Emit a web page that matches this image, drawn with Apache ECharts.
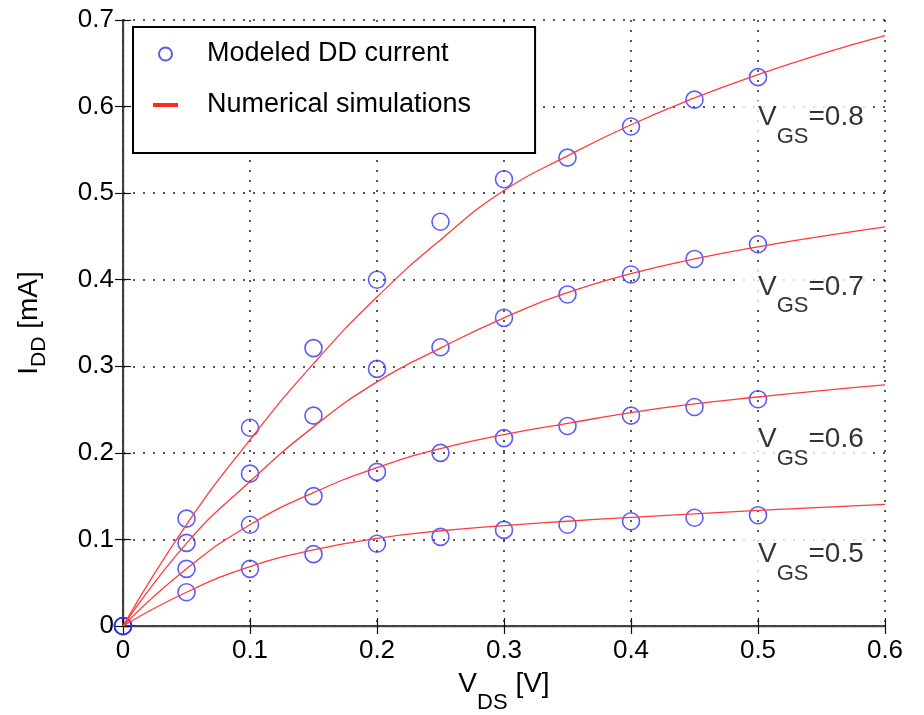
<!DOCTYPE html>
<html><head><meta charset="utf-8">
<script src="https://cdn.jsdelivr.net/npm/echarts@6/dist/echarts.min.js"></script>
<style>html,body{margin:0;padding:0;background:#fff}#c{width:924px;height:715px}</style>
</head><body><div id="c"></div>
<script>
// ---- data ----
const vdsModel = [0, 0.05, 0.1, 0.15, 0.2, 0.25, 0.3, 0.35, 0.4, 0.45, 0.5];
const vdsSim   = [0, 0.05, 0.1, 0.15, 0.2, 0.25, 0.3, 0.35, 0.4, 0.45, 0.5, 0.55, 0.6];

const model08 = [0, 0.124, 0.229, 0.321, 0.400, 0.467, 0.516, 0.541, 0.577, 0.608, 0.634];
const model07 = [0, 0.096, 0.176, 0.243, 0.297, 0.322, 0.356, 0.383, 0.406, 0.424, 0.441];
const model06 = [0, 0.066, 0.117, 0.150, 0.178, 0.200, 0.217, 0.231, 0.243, 0.253, 0.262];
const model05 = [0, 0.039, 0.066, 0.083, 0.095, 0.103, 0.111, 0.117, 0.121, 0.125, 0.128];

const sim08 = [0, 0.117, 0.215, 0.303, 0.380, 0.446, 0.503, 0.543, 0.579, 0.610, 0.637, 0.661, 0.682];
const sim07 = [0, 0.0955, 0.167, 0.230, 0.282, 0.321, 0.356, 0.385, 0.407, 0.424, 0.438, 0.450, 0.461];
const sim06 = [0, 0.066, 0.117, 0.154, 0.183, 0.205, 0.221, 0.234, 0.2465, 0.2565, 0.2645, 0.272, 0.2785];
const sim05 = [0, 0.039, 0.0686, 0.0879, 0.1013, 0.110, 0.116, 0.121, 0.1255, 0.1295, 0.1335, 0.137, 0.1405];

const vgsLevels = ['0.8', '0.7', '0.6', '0.5'];
const vgsLabelX = [0.5, 0.5, 0.5, 0.5];
const vgsLabelY = [0.585, 0.389, 0.213, 0.080];

const xTickLabels = ['0', '0.1', '0.2', '0.3', '0.4', '0.5', '0.6'];
const yTickLabels = ['0', '0.1', '0.2', '0.3', '0.4', '0.5', '0.6', '0.7'];

const legendModel = 'Modeled DD current';
const legendSim = 'Numerical simulations';

// ---- style ----
const FONT = "'Liberation Sans', Arial, Helvetica, sans-serif";
const BLUE = '#3434f4';
const RED = '#ff3b3b';
const zip = (xs, ys) => xs.map((x, i) => [x, ys[i]]);

const modelSets = [model08, model07, model06, model05];
const simSets = [sim08, sim07, sim06, sim05];

const subRich = {
  v: { fontSize: 28, lineHeight: 32, verticalAlign: 'top', color: '#000', fontFamily: FONT },
  s: { fontSize: 22, lineHeight: 22, verticalAlign: 'top', padding: [22, 0, 0, 0], color: '#000', fontFamily: FONT }
};
const yNameRich = {
  v: { fontSize: 28, lineHeight: 32, verticalAlign: 'top', color: '#000', fontFamily: FONT },
  s: { fontSize: 21, lineHeight: 21, verticalAlign: 'top', padding: [14, 0, 0, 0], color: '#000', fontFamily: FONT }
};

const series = [];
simSets.forEach(arr => series.push({
  name: legendSim, type: 'line', data: zip(vdsSim, arr), symbol: 'none',
  smooth: 0.5, z: 4,
  lineStyle: { color: RED, width: 1.3 }, itemStyle: { color: RED }
}));
modelSets.forEach(arr => series.push({
  name: legendModel, type: 'scatter', data: zip(vdsModel, arr), symbol: 'circle', symbolSize: 17, z: 3,
  itemStyle: { color: 'rgba(0,0,0,0)', borderColor: BLUE, borderWidth: 1.6 }
}));
series.push({
  type: 'scatter', symbolSize: 0, silent: true, z: 2,
  data: vgsLevels.map((v, i) => [vgsLabelX[i], vgsLabelY[i], v]),
  label: {
    show: true, position: 'right', distance: 0, offset: [-15, 0],
    backgroundColor: '#fff', padding: [3, 3, 3, 15],
    formatter: p => '{v|V}{s|GS}{v|=' + p.data[2] + '}',
    rich: subRich
  }
});

const axisBase = {
  type: 'value', min: 0, interval: 0.1,
  axisTick: { show: true, inside: true, length: 8, lineStyle: { color: '#111', width: 1.2 } }
};

const option = {
  animation: false,
  backgroundColor: '#fff',
  textStyle: { fontFamily: FONT },
  grid: { left: 123, right: 39, top: 20, bottom: 89, containLabel: false, outerBoundsMode: 'none' },
  legend: {
    left: 133, top: 27, orient: 'vertical',
    padding: [13, 64, 34, 20], itemGap: 23, itemWidth: 25, itemHeight: 13,
    backgroundColor: '#fff', borderColor: '#000', borderWidth: 2, borderRadius: 0,
    textStyle: { fontSize: 27, lineHeight: 28, color: '#000', fontFamily: FONT, padding: [0, 0, 0, 24] },
    data: [
      { name: legendModel, icon: 'circle', itemStyle: { color: 'rgba(0,0,0,0)', borderColor: '#3434d4', borderWidth: 2 } },
      { name: legendSim, icon: 'path://M0,0L25,0L25,4L0,4Z', itemStyle: { color: '#ff2a1a', borderWidth: 0 } }
    ]
  },
  xAxis: [
    Object.assign({}, axisBase, {
      max: 0.6, position: 'bottom',
      axisLine: { show: true, lineStyle: { color: '#111', width: 1.6 } },
      axisLabel: { fontSize: 26, color: '#000', margin: 12, fontFamily: FONT,
        formatter: v => xTickLabels[Math.round(v * 10)] },
      splitLine: { show: true, lineStyle: { color: '#222', width: 1.5, type: [2, 8] } },
      name: '{v|V}{s|DS}{v| [V]}', nameLocation: 'middle', nameGap: 44,
      nameTextStyle: { rich: subRich }
    }),
    Object.assign({}, axisBase, {
      max: 0.6, position: 'top',
      axisLine: { show: true, lineStyle: { color: '#444', width: 1.4 } },
      axisLabel: { show: false }, splitLine: { show: false }
    })
  ],
  yAxis: [
    Object.assign({}, axisBase, {
      max: 0.7, position: 'left',
      axisLine: { show: true, lineStyle: { color: '#111', width: 1.6 } },
      axisLabel: { fontSize: 26, color: '#000', margin: 9, fontFamily: FONT,
        formatter: v => yTickLabels[Math.round(v * 10)] },
      splitLine: { show: true, lineStyle: { color: '#222', width: 1.5, type: [2, 8] } },
      name: '{v|I}{s|DD}{v| [mA]}', nameLocation: 'middle', nameGap: 76, nameRotate: 90,
      nameTextStyle: { rich: yNameRich }
    }),
    Object.assign({}, axisBase, {
      max: 0.7, position: 'right',
      axisLine: { show: true, lineStyle: { color: '#444', width: 1.4 } },
      axisLabel: { show: false }, splitLine: { show: false }
    })
  ],
  series: series
};

const chart = echarts.init(document.getElementById('c'), null, { renderer: 'canvas' });
chart.setOption(option);
</script>
</body></html>
